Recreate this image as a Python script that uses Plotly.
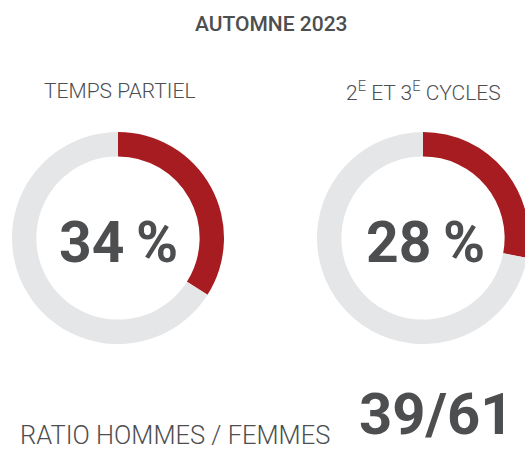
import plotly.graph_objects as go

# données
titre = "AUTOMNE 2023"
categories = ["TEMPS PARTIEL", "2<sup>E</sup> ET 3<sup>E</sup> CYCLES"]
pourcentages = [34, 28]
ratio_libelle = "RATIO HOMMES / FEMMES"
ratio_hommes = 39
ratio_femmes = 61

ROUGE = "#a61c21"
GRIS_CLAIR = "#e5e6e8"
GRIS_TEXTE = "#4d4e50"

# figure un peu plus large que la fenêtre : le 2e anneau est coupé à droite
W, H = 535, 450


def px(x):
    return x / W


def py(y):
    return 1 - y / H


fig = go.Figure()

# anneaux : bord gauche, haut, diamètre (px)
anneaux = [(12, 132, 212), (317, 132, 212)]
centres_x = [118, 425]
labels_x = [119, 423]

for i, pct in enumerate(pourcentages):
    gx, hy, d = anneaux[i]
    fig.add_trace(go.Pie(values=[pct, 100 - pct], labels=["oui", "non"],
                         marker=dict(colors=[ROUGE, GRIS_CLAIR], line=dict(width=0)),
                         hole=0.77, sort=False, direction="clockwise",
                         textinfo="none", hoverinfo="skip", showlegend=False,
                         domain=dict(x=[px(gx), px(gx + d)], y=[py(hy + d), py(hy)])))
    # pourcentage au centre
    fig.add_annotation(x=px(centres_x[i]), y=py(242), xref="paper", yref="paper",
                       xanchor="center", yanchor="middle",
                       text=f"{pct}\u2009%", showarrow=False,
                       font=dict(family="Roboto", size=57, color=GRIS_TEXTE, weight=700))
    # libellé au-dessus
    fig.add_annotation(x=px(labels_x[i]), y=py(91), xref="paper", yref="paper",
                       xanchor="center", yanchor="middle",
                       text=categories[i], showarrow=False,
                       font=dict(family="Roboto", size=21, color=GRIS_TEXTE, weight=300))

# titre
fig.add_annotation(x=px(271), y=py(24), xref="paper", yref="paper",
                   xanchor="center", yanchor="middle",
                   text=titre, showarrow=False,
                   font=dict(family="Roboto", size=21, color=GRIS_TEXTE, weight=500))

# ratio en bas
fig.add_annotation(x=px(18), y=py(435), xref="paper", yref="paper",
                   xanchor="left", yanchor="middle",
                   text=ratio_libelle, showarrow=False,
                   font=dict(family="Roboto", size=25.5, color=GRIS_TEXTE, weight=300))
fig.add_annotation(x=px(516), y=0, xref="paper", yref="paper",
                   xanchor="right", yanchor="bottom",
                   text=f"{ratio_hommes}/{ratio_femmes}", showarrow=False,
                   font=dict(family="Roboto", size=58, color=GRIS_TEXTE, weight=700))

fig.update_layout(width=W, height=H, margin=dict(l=0, r=0, t=0, b=0),
                  paper_bgcolor="white", plot_bgcolor="white")

fig.write_html("out.html", config={"displayModeBar": False},
               post_script="document.body.style.margin='0';"
                           "document.documentElement.style.overflow='hidden';")
